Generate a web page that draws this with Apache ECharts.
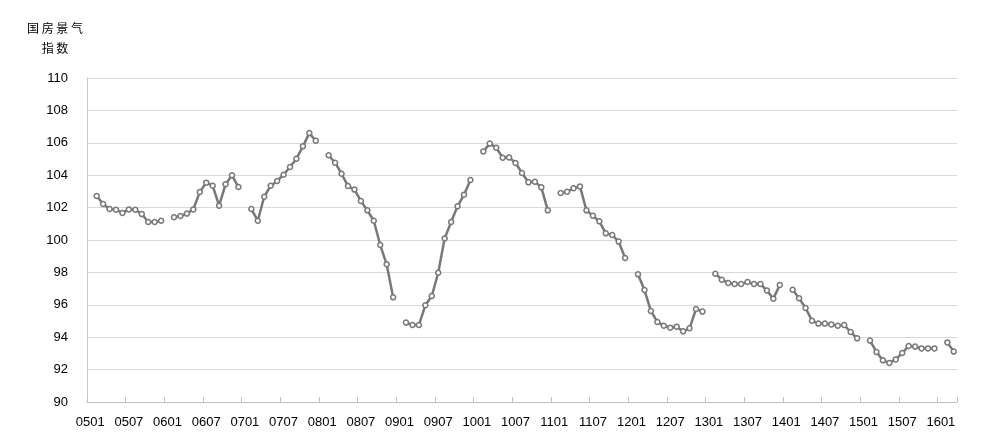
<!DOCTYPE html>
<html>
<head>
<meta charset="utf-8">
<script src="https://cdn.jsdelivr.net/npm/echarts@6/dist/echarts.min.js"></script>
<style>
html,body{margin:0;padding:0;background:#fff;}
#chart{width:997px;height:444px;}
</style>
</head>
<body>
<div id="chart"></div>
<script>
// Feb–Dec values for each year (January not published)
var y2005 = [102.72, 102.22, 101.91, 101.87, 101.67, 101.89, 101.87, 101.60, 101.11, 101.11, 101.19];
var y2006 = [101.40, 101.48, 101.63, 101.89, 102.96, 103.54, 103.35, 102.12, 103.44, 103.99, 103.27];
var y2007 = [101.91, 101.19, 102.67, 103.35, 103.64, 104.03, 104.51, 105.02, 105.78, 106.60, 106.13];
var y2008 = [105.23, 104.77, 104.09, 103.33, 103.11, 102.41, 101.83, 101.19, 99.69, 98.50, 96.46];
var y2009 = [94.90, 94.75, 94.75, 95.97, 96.54, 97.98, 100.10, 101.11, 102.08, 102.80, 103.70];
var y2010 = [105.47, 105.95, 105.70, 105.08, 105.10, 104.75, 104.14, 103.56, 103.60, 103.25, 101.83];
var y2011 = [102.90, 102.98, 103.19, 103.31, 101.83, 101.50, 101.15, 100.41, 100.31, 99.90, 98.89];
var y2012 = [97.88, 96.91, 95.62, 94.94, 94.71, 94.59, 94.65, 94.36, 94.55, 95.74, 95.58];
var y2013 = [97.92, 97.55, 97.35, 97.28, 97.28, 97.41, 97.28, 97.28, 96.89, 96.38, 97.22];
var y2014 = [96.93, 96.40, 95.80, 95.02, 94.84, 94.84, 94.79, 94.71, 94.75, 94.32, 93.93];
var y2015 = [93.79, 93.09, 92.57, 92.41, 92.63, 93.02, 93.46, 93.42, 93.31, 93.31, 93.31];
var y2016 = [93.68, 93.11];

var years = ['05','06','07','08','09','10','11','12','13','14','15','16'];
var months = ['01','02','03','04','05','06','07','08','09','10','11','12'];
var yearData = [y2005,y2006,y2007,y2008,y2009,y2010,y2011,y2012,y2013,y2014,y2015,y2016];

var categories = [];
var values = [];
years.forEach(function(yy, i){
  var arr = yearData[i];
  var nMonths = (i === years.length - 1) ? arr.length + 1 : 12;
  for (var m = 0; m < nMonths; m++) {
    categories.push(yy + months[m]);
    values.push(m === 0 ? null : arr[m - 1]);
  }
});

var chart = echarts.init(document.getElementById('chart'));
chart.setOption({
  animation: false,
  backgroundColor: '#fff',
  textStyle: { fontFamily: 'Liberation Sans, Arial, sans-serif' },
  grid: { left: 87, right: 40, top: 78, bottom: 42, containLabel: false },
  graphic: [{
    type: 'text',
    x: 55, y: 28,
    style: {
      text: '国 房 景 气',
      textAlign: 'center',
      textVerticalAlign: 'middle',
      font: '12px "Noto Sans CJK SC"',
      fill: '#000'
    }
  }, {
    type: 'text',
    x: 55, y: 48,
    style: {
      text: '指 数',
      textAlign: 'center',
      textVerticalAlign: 'middle',
      font: '12px "Noto Sans CJK SC"',
      fill: '#000'
    }
  }],
  xAxis: {
    type: 'category',
    data: categories,
    boundaryGap: true,
    axisLine: { show: true, lineStyle: { color: '#bfbfbf', width: 1 } },
    axisTick: { show: true, interval: 5, inside: true, length: 5, alignWithLabel: false, lineStyle: { color: '#bfbfbf' } },
    axisLabel: { interval: 5, color: '#000', fontSize: 13, margin: 14, fontFamily: 'Liberation Sans, Arial, sans-serif' },
    splitLine: { show: false }
  },
  yAxis: {
    type: 'value',
    min: 90, max: 110, interval: 2,
    axisLine: { show: true, lineStyle: { color: '#c8c8c8', width: 1 } },
    axisTick: { show: false },
    axisLabel: { color: '#000', fontSize: 13, margin: 19, fontFamily: 'Liberation Sans, Arial, sans-serif' },
    splitLine: { show: true, lineStyle: { color: '#d9d9d9', width: 1 } }
  },
  series: [{
    type: 'line',
    data: values,
    connectNulls: false,
    symbol: 'circle',
    symbolSize: 5,
    showAllSymbol: true,
    lineStyle: { color: '#787878', width: 2.5 },
    itemStyle: { color: '#ffffff', borderColor: '#787878', borderWidth: 1.5 }
  }]
});
</script>
</body>
</html>
